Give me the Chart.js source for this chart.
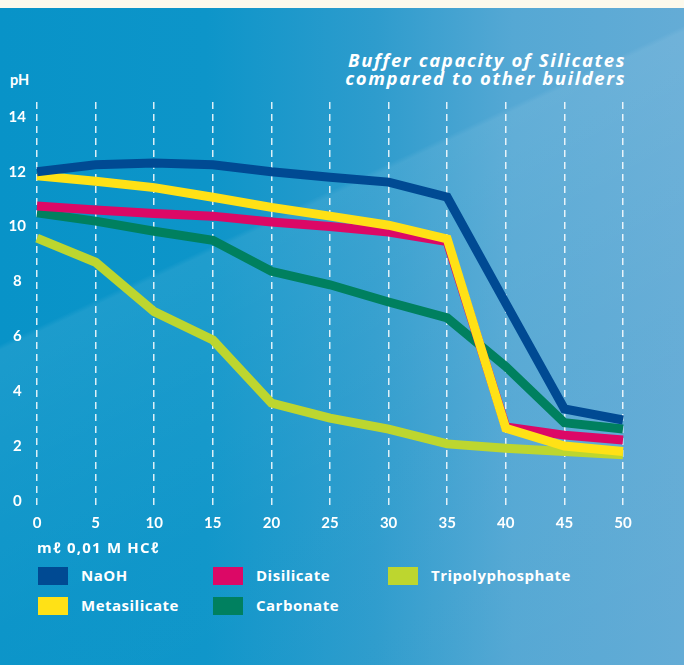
<!DOCTYPE html>
<html>
<head>
<meta charset="utf-8">
<script src="https://cdn.jsdelivr.net/npm/chart.js@4/dist/chart.umd.min.js"></script>
<style>
  html, body { margin: 0; padding: 0; }
  body {
    width: 684px; height: 665px; position: relative; overflow: hidden;
    font-family: "Open Sans", Lato, sans-serif; color: #fff;
    background:
      linear-gradient(155deg, rgba(255,255,255,0) 0%, rgba(255,255,255,0) 35%, rgba(255,255,255,0.08) 35.6%, rgba(255,255,255,0.05) 48%, rgba(255,255,255,0.02) 65%, rgba(255,255,255,0) 100%),
      linear-gradient(90deg, #0893c8 0%, #0d95c9 30%, #2e9ccd 55%, #55a8d4 75%, #64acd6 100%);
  }
  #strip { position: absolute; left: 0; top: 0; width: 684px; height: 8px; background: #fcf9ec; }
  #wrap { position: absolute; left: 0; top: 0; width: 684px; height: 540px; }
  .title { position: absolute; right: 58px; font-weight: bold; font-style: italic; font-size: 18.5px; line-height: 18px; text-align: right; letter-spacing: 1.6px; white-space: nowrap; }
  #ph { position: absolute; left: 10px; top: 71px; font-weight: bold; font-size: 14.5px; font-family: Lato, sans-serif; }
  #xt { position: absolute; left: 37px; top: 537px; font-weight: bold; font-size: 15px; letter-spacing: 1.2px; white-space: nowrap; }
  .lg { position: absolute; height: 18px; }
  .lg .box { position: absolute; left: 0; top: 0; width: 30px; height: 18px; }
  .lg .txt { position: absolute; left: 43px; top: -2px; font-weight: bold; font-size: 15px; line-height: 20px; letter-spacing: 0.5px; white-space: nowrap; }
</style>
</head>
<body>
<div id="strip"></div>
<div class="title" style="top:51px">Buffer capacity of Silicates</div>
<div class="title" style="top:69px">compared to other builders</div>
<div id="ph">pH</div>
<div id="wrap"><canvas id="c" width="684" height="540"></canvas></div>
<div id="xt">mℓ 0,01 M HCℓ</div>
<div id="legend"></div>
<script>
const xLabels = ["0","5","10","15","20","25","30","35","40","45","50"];
const yTicks = [0, 2, 4, 6, 8, 10, 12, 14];

const naoh      = [12.0, 12.25, 12.32, 12.25, 12.0, 11.8, 11.62, 11.07, 7.2, 3.35, 2.95];
const metasil   = [11.85, 11.65, 11.42, 11.07, 10.7, 10.38, 10.05, 9.55, 2.65, 2.0, 1.8];
const disil     = [10.75, 10.6, 10.48, 10.38, 10.17, 10.0, 9.8, 9.45, 2.7, 2.4, 2.22];
const carbonate = [10.5, 10.2, 9.83, 9.5, 8.37, 7.88, 7.25, 6.67, 4.9, 2.85, 2.62];
const tripoly   = [9.58, 8.7, 6.9, 5.87, 3.57, 3.02, 2.62, 2.08, 1.92, 1.8, 1.68];

const seriesNames = ["NaOH", "Metasilicate", "Disilicate", "Carbonate", "Tripolyphosphate"];
const seriesData = [naoh, metasil, disil, carbonate, tripoly];
const seriesColors = ["#004a93", "#ffe116", "#dc0866", "#00805f", "#bdd62f"];

const datasets = seriesNames.map((n, i) => ({
  label: n,
  data: seriesData[i],
  borderColor: seriesColors[i],
  backgroundColor: seriesColors[i],
  borderWidth: 9,
  pointRadius: 0,
  tension: 0,
  fill: false,
  borderJoinStyle: 'miter',
  borderCapStyle: 'butt',
  order: i
}));

new Chart(document.getElementById('c'), {
  type: 'line',
  data: { labels: xLabels, datasets },
  options: {
    responsive: false,
    animation: false,
    events: [],
    layout: { padding: { left: 0, right: 61, top: 102, bottom: 0 } },
    plugins: { legend: { display: false }, tooltip: { enabled: false } },
    scales: {
      x: {
        type: 'category',
        offset: false,
        afterFit: s => { s.height = 33; },
        border: { display: false, dash: [7, 5] },
        grid: { display: true, drawTicks: false, color: 'rgba(255,255,255,0.85)', lineWidth: 1.5 },
        ticks: { color: '#fff', padding: 7, maxRotation: 0, autoSkip: false, font: { family: 'Lato', weight: 'bold', size: 15 } }
      },
      y: {
        min: -0.22, max: 14.54,
        afterFit: s => { s.width = 37; },
        afterBuildTicks: s => { s.ticks = yTicks.map(v => ({ value: v })); },
        border: { display: false },
        grid: { display: false, drawTicks: false },
        ticks: { color: '#fff', padding: 11, crossAlign: 'center', font: { family: 'Lato', weight: 'bold', size: 15 } }
      }
    }
  }
});

// legend (column-major, 3 columns)
const legendPos = [
  [38, 567], [38, 597], [213, 567], [213, 597], [388, 567]
];
const lg = document.getElementById('legend');
seriesNames.forEach((n, i) => {
  const d = document.createElement('div');
  d.className = 'lg';
  d.style.left = legendPos[i][0] + 'px';
  d.style.top = legendPos[i][1] + 'px';
  d.innerHTML = '<div class="box" style="background:' + seriesColors[i] + '"></div><div class="txt">' + n + '</div>';
  lg.appendChild(d);
});
</script>
</body>
</html>
